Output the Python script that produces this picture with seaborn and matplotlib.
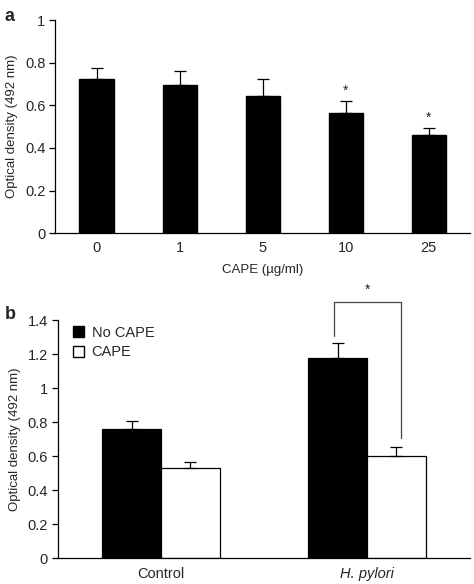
import pandas as pd
import matplotlib.pyplot as plt
import seaborn as sns
from matplotlib.patches import Patch

# Panel a: dose response
cape_doses = ['0', '1', '5', '10', '25']
od_dose = [0.724, 0.696, 0.646, 0.565, 0.459]
err_dose = [0.052, 0.068, 0.078, 0.058, 0.037]
star_dose = ['', '', '', '*', '*']

# Panel b: control vs H. pylori
groups = ['Control', 'H. pylori']
treatments = ['No CAPE', 'CAPE']
od_no_cape = [0.759, 1.18]
od_cape = [0.533, 0.604]
err_no_cape = [0.051, 0.085]
err_cape = [0.035, 0.051]

sns.set_style('white')
plt.rcParams['font.family'] = ['Liberation Sans', 'DejaVu Sans']

fig = plt.figure(figsize=(4.74, 5.84), dpi=100)
ax1 = fig.add_axes([0.116, 0.601, 0.876, 0.364])
ax2 = fig.add_axes([0.122, 0.044, 0.870, 0.4075])

TICK_FS = 10.5
LABEL_FS = 9.5


def style_axes(ax, n):
    sns.despine(ax=ax)
    for s in ['left', 'bottom']:
        ax.spines[s].set_color('black')
        ax.spines[s].set_linewidth(0.9)
    ax.set_xlim(-0.5, n - 0.5)
    ax.set_xticks([i - 0.5 for i in range(n + 1)], minor=True)
    ax.tick_params(axis='x', which='major', length=0, labelsize=TICK_FS, pad=6)
    ax.tick_params(axis='x', which='minor', length=4, width=0.9, direction='out', color='black')
    ax.tick_params(axis='y', length=4, width=0.9, direction='out', color='black',
                   left=True, labelsize=TICK_FS, pad=3)


def add_errors(ax, bars, errs):
    for p, e in zip(bars, errs):
        xc = p.get_x() + p.get_width() / 2
        ax.errorbar(xc, p.get_height(), yerr=[[0], [e]], fmt='none',
                    ecolor='black', elinewidth=0.9, capsize=4, capthick=0.9)


# ---- panel a ----
df_a = pd.DataFrame({'dose': cape_doses, 'od': od_dose})
sns.barplot(x='dose', y='od', data=df_a, color='black', edgecolor='black',
            width=0.41, saturation=1, errorbar=None, ax=ax1)
add_errors(ax1, ax1.patches, err_dose)
for p, e, s in zip(ax1.patches, err_dose, star_dose):
    if s:
        ax1.text(p.get_x() + p.get_width() / 2, p.get_height() + e + 0.015, s,
                 ha='center', va='bottom', fontsize=10)
ax1.set_ylim(0, 1)
ax1.set_yticks([0, 0.2, 0.4, 0.6, 0.8, 1])
ax1.set_yticklabels(['0', '0.2', '0.4', '0.6', '0.8', '1'])
style_axes(ax1, len(cape_doses))
ax1.set_xlabel('CAPE (\u00b5g/ml)', fontsize=LABEL_FS, labelpad=6)
ax1.set_ylabel('Optical density (492 nm)', fontsize=LABEL_FS, labelpad=5)
fig.text(0.01, 0.972, 'a', fontsize=13, fontweight='bold', va='center')

# ---- panel b ----
df_b = pd.DataFrame({
    'group': groups * 2,
    'treatment': [treatments[0]] * 2 + [treatments[1]] * 2,
    'od': od_no_cape + od_cape,
})
sns.barplot(x='group', y='od', hue='treatment', data=df_b,
            palette={'No CAPE': 'black', 'CAPE': 'white'}, edgecolor='black',
            linewidth=0.9, width=0.57, saturation=1, errorbar=None, ax=ax2)
bars_b = [p for p in ax2.patches if p.get_height() > 0]
bars_b = sorted(bars_b, key=lambda p: p.get_x())
add_errors(ax2, bars_b, [err_no_cape[0], err_cape[0], err_no_cape[1], err_cape[1]])

# significance bracket for H. pylori
pb, pc = bars_b[2], bars_b[3]
xl = pb.get_x() + pb.get_width() / 2 - 0.02
xr = pc.get_x() + pc.get_width() / 2 + 0.02
top = 1.51
ax2.plot([xl, xl, xr, xr], [od_no_cape[1] + err_no_cape[1] + 0.045, top, top,
                             od_cape[1] + err_cape[1] + 0.055],
         color='#444444', lw=0.9, clip_on=False)
ax2.text((xl + xr) / 2, top + 0.03, '*', ha='center', va='bottom', fontsize=10,
         clip_on=False)

ax2.set_ylim(0, 1.4)
ax2.set_yticks([0, 0.2, 0.4, 0.6, 0.8, 1, 1.2, 1.4])
ax2.set_yticklabels(['0', '0.2', '0.4', '0.6', '0.8', '1', '1.2', '1.4'])
style_axes(ax2, len(groups))
ax2.set_xticks([0, 1])
ax2.set_xticklabels(['Control', 'H. pylori'])
ax2.get_xticklabels()[1].set_fontstyle('italic')
ax2.set_xlabel('')
ax2.set_ylabel('Optical density (492 nm)', fontsize=LABEL_FS, labelpad=5)

handles = [Patch(facecolor='black', edgecolor='black', label='No CAPE'),
           Patch(facecolor='white', edgecolor='black', label='CAPE')]
ax2.legend(handles=handles, loc='upper left', bbox_to_anchor=(0.015, 1.015),
           frameon=False, fontsize=10.5, handlelength=0.8, handleheight=0.8,
           handletextpad=0.5, labelspacing=0.4, borderaxespad=0.2)
fig.text(0.01, 0.462, 'b', fontsize=13, fontweight='bold', va='center')

fig.savefig('out.png', dpi=100)
